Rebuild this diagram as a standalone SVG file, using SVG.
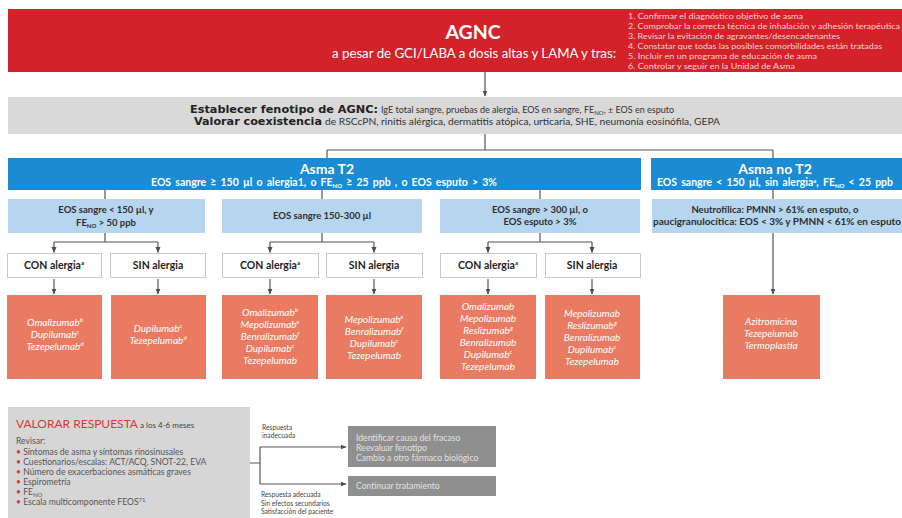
<svg xmlns="http://www.w3.org/2000/svg" width="902" height="518" viewBox="0 0 902 518">
  <defs>
    <marker id="arr" viewBox="0 0 6 6" refX="5.5" refY="3" markerWidth="6" markerHeight="6" markerUnits="userSpaceOnUse" orient="auto">
      <path d="M0,0.5 L6,3 L0,5.5 z" fill="#4d4d4d"/>
    </marker>
    <style>
      text { font-family: Lato, "Liberation Sans", sans-serif; }
      .c { stroke: #555; stroke-width: 1.2; fill: none; }
      .ca { stroke: #555; stroke-width: 1.2; fill: none; marker-end: url(#arr); }
      .hdr { fill: #d3222a; }
      .band { fill: #d9d9d9; }
      .blue { fill: #1b8bd3; }
      .lblue { fill: #b6d5ee; }
      .opt { fill: #ffffff; stroke: #c9c9c9; stroke-width: 1; }
      .drug { fill: #e87b62; }
      .dgrey { fill: #8f8f8f; }
      .mid { text-anchor: middle; }
      .lst { font-size: 8px; fill: #f6d3d3; }
      .hb { font-family: "DejaVu Sans", Verdana, sans-serif; font-weight: 700; font-size: 11.3px; fill: #222; }
      .hr { font-size: 9px; fill: #333; }
      .bt { font-weight: 700; font-size: 14px; fill: #fff; text-anchor: middle; }
      .bs { font-weight: 700; font-size: 10.5px; fill: #fff; text-anchor: middle; word-spacing: 1.6px; }
      .lt { font-weight: 700; font-size: 9.5px; fill: #2e2e2e; text-anchor: middle; }
      .ot { font-weight: 700; font-size: 10.5px; fill: #1e1e1e; text-anchor: middle; }
      .dt { font-style: italic; font-size: 10px; fill: #fff; text-anchor: middle; }
      .sup { font-size: 6px; }
      .sub { font-size: 6px; }
      .rv { font-size: 8.6px; fill: #555; }
      .rd { fill: #d9383a; }
      .sm { font-size: 6.7px; fill: #444; }
      .gt { font-size: 8.6px; fill: #e2e2e2; }
    </style>
  </defs>

  <rect width="902" height="518" fill="#ffffff"/>

  <!-- header -->
  <g id="agnc">
    <rect class="hdr" x="8" y="9" width="894" height="63"/>
    <text x="473" y="39" class="mid" font-weight="700" font-size="19.5" fill="#fff">AGNC</text>
    <text x="474" y="58" class="mid" font-size="12.5" fill="#fff" textLength="284" lengthAdjust="spacingAndGlyphs">a pesar de GCI/LABA a dosis altas y LAMA y tras:</text>
    <text class="lst" x="628" y="19" textLength="175" lengthAdjust="spacingAndGlyphs">1. Confirmar el diagnóstico objetivo de asma</text>
    <text class="lst" x="628" y="29" textLength="272" lengthAdjust="spacingAndGlyphs">2. Comprobar la correcta técnica de inhalación y adhesión terapéutica</text>
    <text class="lst" x="628" y="39" textLength="212" lengthAdjust="spacingAndGlyphs">3. Revisar la evitación de agravantes/desencadenantes</text>
    <text class="lst" x="628" y="49" textLength="254" lengthAdjust="spacingAndGlyphs">4. Constatar que todas las posibles comorbilidades están tratadas</text>
    <text class="lst" x="628" y="59" textLength="189" lengthAdjust="spacingAndGlyphs">5. Incluir en un programa de educación de asma</text>
    <text class="lst" x="628" y="69" textLength="167" lengthAdjust="spacingAndGlyphs">6. Controlar y seguir en la Unidad de Asma</text>
  </g>

  <!-- phenotype band -->
  <g id="fenotipo">
    <rect class="band" x="8" y="97" width="894" height="37"/>
    <text x="190" y="113"><tspan class="hb" textLength="188" lengthAdjust="spacingAndGlyphs">Establecer fenotipo de AGNC:</tspan></text>
    <text class="hr" x="381" y="113">IgE total sangre, pruebas de alergia, EOS en sangre, FE<tspan class="sub" dy="2">NO</tspan><tspan dy="-2">, ± EOS en esputo</tspan></text>
    <text x="194" y="125"><tspan class="hb" textLength="128" lengthAdjust="spacingAndGlyphs">Valorar coexistencia</tspan></text>
    <text class="hr" x="325" y="125" textLength="395" lengthAdjust="spacingAndGlyphs">de RSCcPN, rinitis alérgica, dermatitis atópica, urticaria, SHE, neumonía eosinófila, GEPA</text>
  </g>

  <!-- phenotype bars -->
  <g id="asma-t2">
    <rect class="blue" x="8" y="158" width="633" height="32"/>
    <text class="bt" x="327" y="174">Asma T2</text>
    <text class="bs" x="324" y="186">EOS sangre ≥ 150 µl o alergia1, o FE<tspan class="sub" dy="2">NO</tspan><tspan dy="-2"> ≥ 25 ppb , o EOS esputo &gt; 3%</tspan></text>
  </g>
  <g id="asma-no-t2">
    <rect class="blue" x="651" y="158" width="251" height="32"/>
    <text class="bt" x="775" y="174">Asma no T2</text>
    <text class="bs" x="775" y="186">EOS sangre &lt; 150 µl, sin alergia<tspan class="sup" dy="-3">a</tspan><tspan dy="3">, FE</tspan><tspan class="sub" dy="2">NO</tspan><tspan dy="-2"> &lt; 25 ppb</tspan></text>
  </g>

  <!-- eosinophil levels -->
  <g id="eos-bajo">
    <rect class="lblue" x="8" y="199" width="197" height="34"/>
    <text class="lt" x="106" y="213">EOS sangre &lt; 150 µl, y</text>
    <text class="lt" x="106" y="226">FE<tspan class="sub" dy="2">NO</tspan><tspan dy="-2"> &gt; 50 ppb</tspan></text>
  </g>
  <g id="eos-medio">
    <rect class="lblue" x="222" y="199" width="200" height="34"/>
    <text class="lt" x="322" y="219">EOS sangre 150-300 µl</text>
  </g>
  <g id="eos-alto">
    <rect class="lblue" x="440" y="199" width="200" height="34"/>
    <text class="lt" x="540" y="213">EOS sangre &gt; 300 µl, o</text>
    <text class="lt" x="540" y="225">EOS esputo &gt; 3%</text>
  </g>
  <g id="no-t2-tipo">
    <rect class="lblue" x="652" y="199" width="250" height="34"/>
    <text class="lt" x="775" y="213">Neutrofílica: PMNN &gt; 61% en esputo, o</text>
    <text class="lt" x="777" y="225" textLength="248" lengthAdjust="spacingAndGlyphs">paucigranulocítica: EOS &lt; 3% y PMNN &lt; 61% en esputo</text>
  </g>

  <!-- allergy status -->
  <g id="con-1"><rect class="opt" x="7.5" y="253.5" width="94" height="24"/><text class="ot" x="54" y="269">CON alergia<tspan class="sup" dy="-4">a</tspan></text></g>
  <g id="sin-1"><rect class="opt" x="110.5" y="253.5" width="95" height="24"/><text class="ot" x="158" y="269">SIN alergia</text></g>
  <g id="con-2"><rect class="opt" x="222.5" y="253.5" width="96" height="24"/><text class="ot" x="270" y="269">CON alergia<tspan class="sup" dy="-4">a</tspan></text></g>
  <g id="sin-2"><rect class="opt" x="326.5" y="253.5" width="96" height="24"/><text class="ot" x="374" y="269">SIN alergia</text></g>
  <g id="con-3"><rect class="opt" x="440.5" y="253.5" width="96" height="24"/><text class="ot" x="488" y="269">CON alergia<tspan class="sup" dy="-4">a</tspan></text></g>
  <g id="sin-3"><rect class="opt" x="545.5" y="253.5" width="95" height="24"/><text class="ot" x="592" y="269">SIN alergia</text></g>

  <!-- treatments -->
  <g id="tto-1">
    <rect class="drug" x="7" y="295" width="95" height="84"/>
    <text class="dt" x="55" y="326">Omalizumab<tspan class="sup" dy="-4">b</tspan><tspan x="55" dy="16">Dupilumab</tspan><tspan class="sup" dy="-4">c</tspan><tspan x="55" dy="16">Tezepelumab</tspan><tspan class="sup" dy="-4">d</tspan></text>
  </g>
  <g id="tto-2">
    <rect class="drug" x="111" y="295" width="95" height="84"/>
    <text class="dt" x="158" y="331.5">Dupilumab<tspan class="sup" dy="-4">c</tspan><tspan x="158" dy="16">Tezepelumab</tspan><tspan class="sup" dy="-4">d</tspan></text>
  </g>
  <g id="tto-3">
    <rect class="drug" x="222" y="295" width="96" height="84"/>
    <text class="dt" x="270" y="315.5">Omalizumab<tspan class="sup" dy="-4">b</tspan><tspan x="270" dy="16">Mepolizumab</tspan><tspan class="sup" dy="-4">e</tspan><tspan x="270" dy="16">Benralizumab</tspan><tspan class="sup" dy="-4">f</tspan><tspan x="270" dy="16">Dupilumab</tspan><tspan class="sup" dy="-4">c</tspan><tspan x="270" dy="16">Tezepelumab</tspan></text>
  </g>
  <g id="tto-4">
    <rect class="drug" x="326" y="295" width="96" height="84"/>
    <text class="dt" x="374" y="322.5">Mepolizumab<tspan class="sup" dy="-4">e</tspan><tspan x="374" dy="16">Benralizumab</tspan><tspan class="sup" dy="-4">f</tspan><tspan x="374" dy="16">Dupilumab</tspan><tspan class="sup" dy="-4">c</tspan><tspan x="374" dy="16">Tezepelumab</tspan></text>
  </g>
  <g id="tto-5">
    <rect class="drug" x="440" y="295" width="96" height="84"/>
    <text class="dt" x="488" y="309.5">Omalizumab<tspan x="488" dy="12">Mepolizumab</tspan><tspan x="488" dy="12">Reslizumab</tspan><tspan class="sup" dy="-4">g</tspan><tspan x="488" dy="16">Benralizumab</tspan><tspan x="488" dy="12">Dupilumab</tspan><tspan class="sup" dy="-4">c</tspan><tspan x="488" dy="16">Tezepelumab</tspan></text>
  </g>
  <g id="tto-6">
    <rect class="drug" x="545" y="295" width="95" height="84"/>
    <text class="dt" x="592" y="316.5">Mepolizumab<tspan x="592" dy="12">Reslizumab</tspan><tspan class="sup" dy="-4">g</tspan><tspan x="592" dy="16">Benralizumab</tspan><tspan x="592" dy="12">Dupilumab</tspan><tspan class="sup" dy="-4">c</tspan><tspan x="592" dy="16">Tezepelumab</tspan></text>
  </g>
  <g id="tto-no-t2">
    <rect class="drug" x="723" y="295" width="97" height="84"/>
    <text class="dt" x="771" y="324.5">Azitromicina<tspan x="771" dy="12">Tezepelumab</tspan><tspan x="771" dy="12">Termoplastia</tspan></text>
  </g>

  <!-- response assessment -->
  <g id="valorar">
    <rect fill="#d6d6d6" x="8" y="407" width="242" height="111"/>
    <text x="16" y="428"><tspan class="rd" font-size="12">VALORAR RESPUESTA</tspan><tspan font-size="8" fill="#444"> a los 4-6 meses</tspan></text>
    <text class="rv" x="16" y="444">Revisar:</text>
    <text class="rv" x="16" y="455"><tspan class="rd">•</tspan> Síntomas de asma y síntomas rinosinusales</text>
    <text class="rv" x="16" y="465"><tspan class="rd">•</tspan> Cuestionarios/escalas: ACT/ACQ, SNOT-22, EVA</text>
    <text class="rv" x="16" y="475"><tspan class="rd">•</tspan> Número de exacerbaciones asmáticas graves</text>
    <text class="rv" x="16" y="485"><tspan class="rd">•</tspan> Espirometría</text>
    <text class="rv" x="16" y="495"><tspan class="rd">•</tspan> FE<tspan class="sub" dy="2">NO</tspan></text>
    <text class="rv" x="16" y="505"><tspan class="rd">•</tspan> Escala multicomponente FEOS<tspan class="sup" dy="-3">71</tspan></text>
  </g>
  <g id="fracaso">
    <rect class="dgrey" x="348" y="426" width="148" height="41"/>
    <text class="gt" x="356" y="440.5">Identificar causa del fracaso</text>
    <text class="gt" x="356" y="450.5">Reevaluar fenotipo</text>
    <text class="gt" x="356" y="461">Cambio a otro fármaco biológico</text>
  </g>
  <g id="continuar">
    <rect class="dgrey" x="348" y="476" width="148" height="20"/>
    <text class="gt" x="356" y="489">Continuar tratamiento</text>
  </g>
  <g id="etiquetas-respuesta">
    <text class="sm" x="262" y="430">Respuesta</text>
    <text class="sm" x="262" y="437.5">inadecuada</text>
    <text class="sm" x="261" y="497">Respuesta adecuada</text>
    <text class="sm" x="261" y="505.5">Sin  efectos secundarios</text>
    <text class="sm" x="261" y="514">Satisfacción del paciente</text>
  </g>

  <!-- connectors -->
  <g id="connectors">
    <path class="ca" d="M485,72 V96"/>
    <path class="c" d="M485,134 V150 M327,150 H773 M327,150 V158 M773,150 V158"/>
    <path class="c" d="M105,190 V199 M322,190 V199 M540,190 V199 M773,190 V199"/>
    <path class="c" d="M105,233 V242 M54,242 H158 M322,233 V242 M270,242 H374 M540,233 V242 M488,242 H592"/>
    <path class="ca" d="M54,242 V252.5"/>
    <path class="ca" d="M158,242 V252.5"/>
    <path class="ca" d="M270,242 V252.5"/>
    <path class="ca" d="M374,242 V252.5"/>
    <path class="ca" d="M488,242 V252.5"/>
    <path class="ca" d="M592,242 V252.5"/>
    <path class="ca" d="M54,279 V294"/>
    <path class="ca" d="M158,279 V294"/>
    <path class="ca" d="M270,279 V294"/>
    <path class="ca" d="M374,279 V294"/>
    <path class="ca" d="M488,279 V294"/>
    <path class="ca" d="M592,279 V294"/>
    <path class="ca" d="M773,233 V294"/>
    <path class="c" d="M250,463 H260 M260,447 V484"/>
    <path class="ca" d="M260,447 H346"/>
    <path class="ca" d="M260,484 H346"/>
  </g>
</svg>
